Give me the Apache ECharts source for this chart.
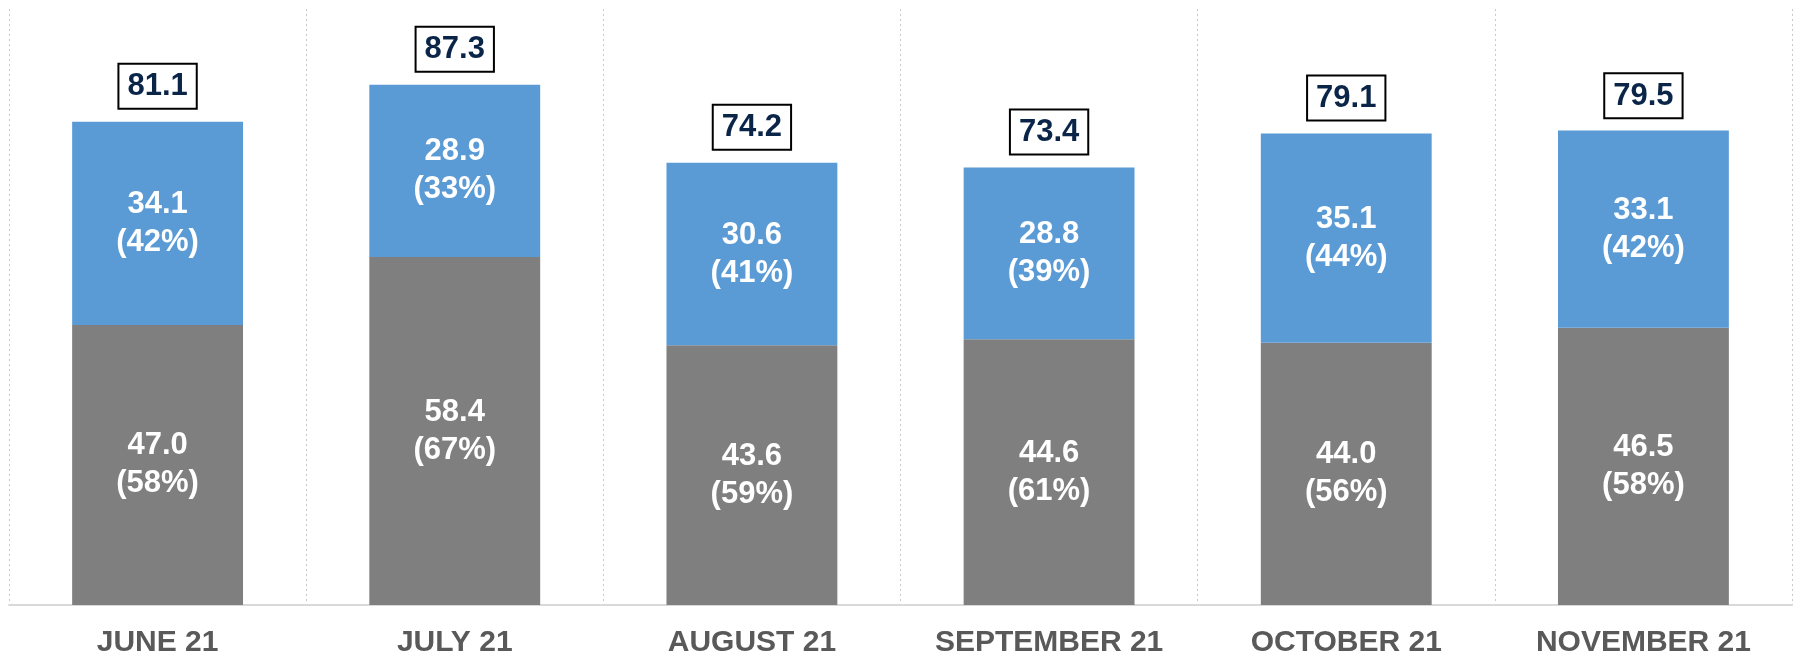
<!DOCTYPE html>
<html>
<head>
<meta charset="utf-8">
<script src="https://cdn.jsdelivr.net/npm/echarts@6/dist/echarts.min.js"></script>
<style>
    html, body { margin: 0; padding: 0; background: #fff; }
    #chart { width: 1798px; height: 659px; }
</style>
</head>
<body>
<div id="chart"></div>
<script>
var months = ['JUNE 21', 'JULY 21', 'AUGUST 21', 'SEPTEMBER 21', 'OCTOBER 21', 'NOVEMBER 21'];
var greyValues = [47.0, 58.4, 43.6, 44.6, 44.0, 46.5];
var greyShares = [58, 67, 59, 61, 56, 58];
var blueValues = [34.1, 28.9, 30.6, 28.8, 35.1, 33.1];
var blueShares = [42, 33, 41, 39, 44, 42];
var totals = [81.1, 87.3, 74.2, 73.4, 79.1, 79.5];

var font = '"Liberation Sans", Arial, sans-serif';

function insideLabel(shares) {
    return {
        show: true,
        position: 'inside',
        color: '#fff',
        fontFamily: font,
        fontWeight: 'bold',
        fontSize: 31,
        lineHeight: 38,
        formatter: function(p) {
            return p.value.toFixed(1) + '\n(' + shares[p.dataIndex] + '%)';
        }
    };
}

var chart = echarts.init(document.getElementById('chart'));
chart.setOption({
    animation: false,
    grid: {
        left: 9,
        right: 6,
        top: 9,
        bottom: 54,
        outerBoundsMode: 'none'
    },
    xAxis: {
        type: 'category',
        data: months,
        boundaryGap: true,
        axisLine: { show: true, lineStyle: { color: '#d9d9d9', width: 2 } },
        axisTick: { show: false },
        axisLabel: {
            color: '#595959',
            fontFamily: font,
            fontWeight: 'bold',
            fontSize: 30,
            margin: 23
        },
        splitLine: {
            show: true,
            lineStyle: { color: '#c8c8c8', type: [2, 3], width: 1 }
        }
    },
    yAxis: {
        type: 'value',
        min: 0,
        max: 100,
        show: false,
        splitLine: { show: false }
    },
    series: [
        {
            name: 'grey',
            type: 'bar',
            stack: 'total',
            barWidth: '57.5%',
            data: greyValues,
            itemStyle: { color: '#7f7f7f' },
            label: insideLabel(greyShares)
        },
        {
            name: 'blue',
            type: 'bar',
            stack: 'total',
            barWidth: '57.5%',
            data: blueValues,
            itemStyle: { color: '#5b9bd5' },
            label: insideLabel(blueShares)
        },
        {
            // invisible bar carrying the total label
            name: 'total',
            type: 'bar',
            barWidth: '57.5%',
            barGap: '-100%',
            data: totals,
            silent: true,
            z: 1,
            itemStyle: { color: 'rgba(255,255,255,0)' },
            label: {
                show: true,
                position: 'top',
                distance: 14,
                color: '#0b2548',
                fontFamily: font,
                fontWeight: 'bold',
                fontSize: 31,
                lineHeight: 36,
                borderColor: '#000',
                borderWidth: 2,
                padding: [4, 8, 3, 8],
                backgroundColor: '#fff',
                formatter: function(p) {
                    return p.value.toFixed(1);
                }
            }
        }
    ]
});
</script>
</body>
</html>
